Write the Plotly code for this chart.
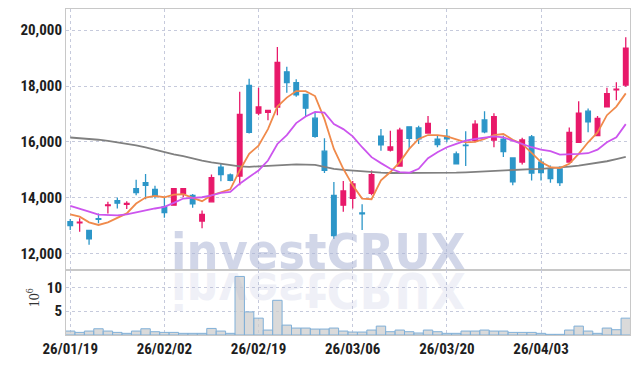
import plotly.graph_objects as go
from plotly.subplots import make_subplots

dates = ["26/01/19", "26/01/20", "26/01/21", "26/01/22", "26/01/23",
         "26/01/26", "26/01/27", "26/01/28", "26/01/29", "26/01/30",
         "26/02/02", "26/02/03", "26/02/04", "26/02/05", "26/02/06",
         "26/02/09", "26/02/10", "26/02/11", "26/02/12", "26/02/13",
         "26/02/19", "26/02/20", "26/02/23", "26/02/24", "26/02/25",
         "26/02/26", "26/02/27", "26/03/03", "26/03/04", "26/03/05",
         "26/03/06", "26/03/09", "26/03/10", "26/03/11", "26/03/12",
         "26/03/13", "26/03/16", "26/03/17", "26/03/18", "26/03/19",
         "26/03/20", "26/03/23", "26/03/24", "26/03/25", "26/03/26",
         "26/03/27", "26/03/30", "26/03/31", "26/04/01", "26/04/02",
         "26/04/03", "26/04/06", "26/04/07", "26/04/08", "26/04/09",
         "26/04/10", "26/04/13", "26/04/14", "26/04/15", "26/04/16"]

opens = [13150, 13110, 12840, 13260, 13720, 13900, 13770, 14330, 14540, 14300,
         13680, 13740, 14165, 14090, 13170, 13860, 15100, 14820, 14780, 18020,
         17030, 17060, 17250, 18510, 18120, 17700, 16850, 15670, 14090, 13740,
         13980, 13460, 14165, 16210, 15705, 15140, 16540, 16500, 16320, 16105,
         16200, 15570, 15890, 16045, 16790, 16070, 16105, 15430, 15280, 16185,
         15280, 15040, 15040, 15280, 15990, 17100, 16225, 17255, 17860, 18035]
highs = [13240, 13270, 12860, 13440, 13860, 14010, 13880, 14650, 14850, 14430,
         14010, 14330, 14330, 14140, 13550, 14840, 15210, 14870, 17800, 18260,
         17940, 17140, 19400, 18690, 18240, 17700, 17050, 16130, 14570, 14600,
         14600, 13770, 14980, 16460, 16400, 16510, 16540, 16580, 16930, 16220,
         16460, 15655, 16380, 16780, 17100, 17030, 16220, 15430, 16150, 16250,
         15420, 15160, 15120, 16520, 17455, 17200, 16930, 17940, 18140, 19750]
lows = [12850, 12790, 12320, 13090, 13440, 13620, 13600, 14090, 13950, 13980,
        13290, 13740, 14020, 13650, 12910, 13860, 14590, 14590, 14450, 16300,
        16960, 16780, 16960, 17760, 17620, 16910, 16150, 14890, 12530, 13500,
        13620, 12850, 14090, 15690, 15655, 15137, 15750, 15930, 16319, 15810,
        15990, 15220, 15140, 15990, 16310, 15810, 15460, 14450, 15190, 14625,
        14625, 14545, 14425, 15279, 15988, 16345, 16223, 17253, 17490, 17975]
closes = [13010, 13130, 12530, 13230, 13750, 13810, 13800, 14190, 14450, 14070,
          13470, 14330, 14330, 13790, 13410, 14720, 14830, 14630, 16990, 16345,
          17250, 17130, 18850, 18120, 17690, 17210, 16200, 14980, 12650, 14250,
          14500, 13430, 14830, 15900, 15820, 16425, 16130, 16110, 16660, 15905,
          16110, 15220, 15870, 16640, 16365, 16910, 15655, 14570, 16070, 14890,
          14900, 14690, 14545, 16345, 17030, 16720, 16840, 17730, 17890, 19360]

# volume in millions of shares
volumes = [0.83, 0.55, 0.83, 1.31, 0.83, 0.55, 0.35, 0.83, 1.31, 0.69,
           0.55, 0.55, 0.35, 0.35, 0.35, 1.38, 0.83, 0.35, 12.3, 4.85,
           3.54, 1.04, 7.29, 2.08, 1.46, 1.46, 1.25, 1.25, 1.46, 0.83,
           0.62, 0.62, 1.04, 1.87, 0.69, 1.04, 0.69, 0.42, 1.04, 0.69,
           0.35, 0.35, 0.83, 0.83, 1.04, 0.83, 0.83, 0.55, 0.55, 0.55,
           0.35, 0.14, 0.14, 1.04, 1.87, 0.83, 0.35, 1.46, 1.11, 3.54]

ma_short = [13408, 13326, 13124, 13030, 13124, 13290, 13443, 13798, 14011, 14071,
            14022, 14118, 14130, 14000, 13880, 14093, 14213, 14306, 14980, 15573,
            15868, 16461, 17267, 17586, 17820, 17820, 17643, 16816, 15751, 15041,
            14448, 13976, 13951, 14625, 14924, 15279, 15751, 16106, 16248, 16248,
            16201, 16106, 15988, 16000, 16106, 16248, 16283, 16081, 15928, 15609,
            15279, 15101, 15066, 15218, 15573, 15988, 16343, 16958, 17267, 17739]
ma_mid = [13716, 13620, 13504, 13397, 13372, 13372, 13408, 13468, 13550, 13620,
          13681, 13823, 13976, 14000, 14022, 14093, 14178, 14213, 14508, 14746,
          14980, 15335, 15928, 16248, 16674, 16912, 17075, 17050, 16638, 16461,
          16201, 15811, 15456, 15243, 15041, 14924, 14899, 15041, 15421, 15634,
          15811, 15928, 16045, 16106, 16166, 16201, 16166, 16045, 15928, 15811,
          15727, 15669, 15550, 15550, 15573, 15597, 15727, 15988, 16166, 16638]
ma_long = [16160, 16140, 16110, 16080, 16040, 15990, 15940, 15880, 15810, 15720,
           15640, 15560, 15490, 15400, 15330, 15270, 15220, 15170, 15130, 15110,
           15130, 15160, 15180, 15200, 15200, 15190, 15180, 15110, 15040, 15000,
           14970, 14940, 14910, 14900, 14890, 14890, 14880, 14880, 14880, 14885,
           14890, 14900, 14910, 14930, 14950, 14960, 14980, 15000, 15010, 15030,
           15040, 15060, 15090, 15120, 15150, 15200, 15250, 15310, 15390, 15470]

price_ticks = [12000, 14000, 16000, 18000, 20000]
volume_ticks = [5, 10]
date_ticks = dates[::10]
watermark = "investCRUX"
volume_unit = "10<sup>6</sup>"

UP = "#e8196a"
DOWN = "#2c96c8"
TICK_FONT = dict(family="Liberation Sans Narrow, Roboto Condensed, DejaVu Sans Condensed, sans-serif",
                 size=15, color="#1e1e1e", weight="bold")
GRID = "#c6cadc"

fig = make_subplots(rows=2, cols=1, shared_xaxes=True, vertical_spacing=0,
                    row_heights=[0.802, 0.198])

fig.add_trace(go.Bar(x=dates, y=volumes, width=1.0,
                     marker=dict(color="rgba(205,205,205,0.75)",
                                 line=dict(color="#80b0d8", width=1)),
                     hoverinfo="skip"), row=2, col=1)

fig.add_trace(go.Candlestick(x=dates, open=opens, high=highs, low=lows, close=closes,
                             increasing=dict(line=dict(color=UP, width=1.3), fillcolor=UP),
                             decreasing=dict(line=dict(color=DOWN, width=1.3), fillcolor=DOWN),
                             whiskerwidth=0),
              row=1, col=1)

fig.add_trace(go.Scatter(x=dates, y=ma_long, mode="lines",
                         line=dict(color="#808080", width=1.8)), row=1, col=1)
fig.add_trace(go.Scatter(x=dates, y=ma_short, mode="lines",
                         line=dict(color="#f08a4b", width=1.8)), row=1, col=1)
fig.add_trace(go.Scatter(x=dates, y=ma_mid, mode="lines",
                         line=dict(color="#cc55ee", width=1.8)), row=1, col=1)

axis_common = dict(showline=True, mirror=True, linecolor="#c8c8c8", linewidth=1,
                   showgrid=True, gridcolor=GRID, griddash="dot", gridwidth=1,
                   zeroline=False, tickfont=TICK_FONT)

fig.update_xaxes(type="category", range=[-0.45, 59.45], tickmode="array",
                 tickvals=date_ticks, ticktext=date_ticks,
                 rangeslider=dict(visible=False), **axis_common)
fig.update_yaxes(range=[11403, 20757], tickvals=price_ticks, tickformat=",",
                 row=1, col=1, **axis_common)
fig.update_yaxes(range=[0, 13.56], tickvals=volume_ticks, row=2, col=1, **axis_common)

wm_font = dict(family="DejaVu Sans Condensed, DejaVu Sans, sans-serif", size=50,
               color="rgba(172,180,214,0.55)", weight="bold")
fig.add_annotation(text=watermark, xref="paper", yref="paper", x=0.446, y=0.2546,
                   xanchor="center", yanchor="middle", showarrow=False, font=wm_font)
fig.add_annotation(text=watermark, xref="paper", yref="paper", x=0.446, y=0.2546,
                   xanchor="center", yanchor="middle", showarrow=False, font=wm_font,
                   opacity=0.35)
fig.add_annotation(text=volume_unit, xref="paper", yref="paper",
                   x=(33 - 66) / 565, y=(337 - 300) / 328, xanchor="center", yanchor="middle",
                   textangle=-90, showarrow=False,
                   font=dict(family="Liberation Serif, DejaVu Serif, serif", size=14, color="#333333"))

fig.update_layout(width=639, height=366, margin=dict(l=66, r=8, t=9, b=29),
                  paper_bgcolor="white", plot_bgcolor="white", showlegend=False,
                  hovermode=False)

post = """
document.body.style.margin='0';
var gd=document.getElementById('{plot_id}');
function flipWM(){var g=gd.querySelector('g.annotation[data-index="1"]');
 if(g){g.setAttribute('transform','translate(0,542) scale(1,-1)');}}
flipWM(); gd.on('plotly_afterplot', flipWM);
"""
fig.write_html("out.html", post_script=post, config={"displayModeBar": False})
